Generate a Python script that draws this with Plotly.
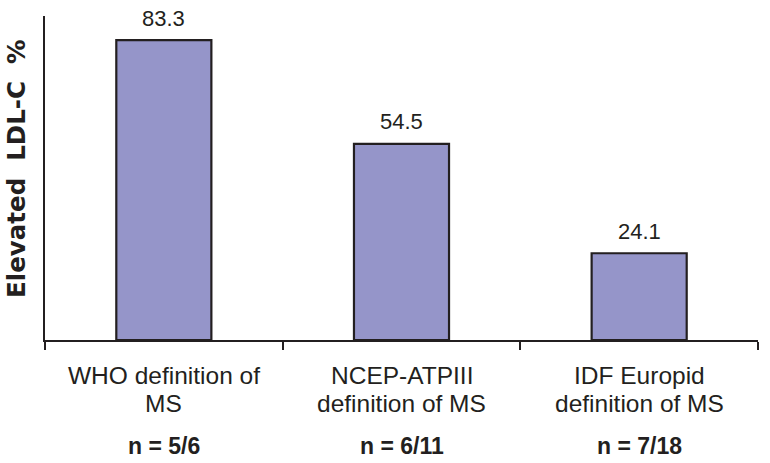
import plotly.graph_objects as go

categories = ["WHO definition of<br>MS", "NCEP-ATPIII<br>definition of MS", "IDF Europid<br>definition of MS"]
values = [83.3, 54.5, 24.1]
n_labels = ["n = 5/6", "n = 6/11", "n = 7/18"]
y_title = "Elevated  LDL-C  %"

ink = "#231f20"
fill = "#9595c9"
font_family = "Liberation Sans, Arial, sans-serif"

fig = go.Figure()
fig.add_trace(go.Bar(
    x=categories, y=values,
    marker=dict(color=fill, line=dict(color=ink, width=2.2)),
    width=0.4,
))

annotations = []
for c, v in zip(categories, values):
    annotations.append(dict(x=c, y=v, xref="x", yref="y", text=f"{v:.1f}",
                            showarrow=False, yanchor="middle", yshift=22,
                            font=dict(size=22, color=ink, family=font_family)))
for c in categories:
    lines = c.split("<br>")
    for line, shift in zip(lines, [-35, -63]):
        annotations.append(dict(x=c, y=0, xref="x", yref="paper", text=line,
                                showarrow=False, yanchor="middle", yshift=shift,
                                font=dict(size=24.5, color=ink, family=font_family)))
for c, n in zip(categories, n_labels):
    annotations.append(dict(x=c, y=0, xref="x", yref="paper", text=f"<b>{n}</b>",
                            showarrow=False, yanchor="middle", yshift=-105.5,
                            font=dict(size=23, color=ink, family=font_family)))
annotations.append(dict(x=0, y=0.528, xref="paper", yref="paper", text=f"<b>{y_title}</b>",
                        showarrow=False, textangle=-90, xanchor="center", yanchor="middle",
                        xshift=-28,
                        font=dict(size=24.5, color=ink, family="DejaVu Sans, sans-serif")))

fig.update_layout(
    width=770, height=463,
    margin=dict(l=45, r=12, t=16, b=123, autoexpand=False),
    paper_bgcolor="white", plot_bgcolor="white",
    showlegend=False,
    hovermode=False,
    annotations=annotations,
    xaxis=dict(type="category", showline=True, linecolor=ink, linewidth=2.2,
               ticks="outside", tickson="boundaries", ticklen=8, tickwidth=2, tickcolor=ink,
               showgrid=False, zeroline=False, showticklabels=False,
               range=[-0.5, 2.5]),
    yaxis=dict(range=[0, 90], showline=True, linecolor=ink, linewidth=2.2,
               showticklabels=False, ticks="", showgrid=False, zeroline=False),
)

# remove the browser's default 8px body margin so the figure fills the window
fig.write_html("out.html", config={"displayModeBar": False},
               post_script="document.body.style.margin='0px';")
